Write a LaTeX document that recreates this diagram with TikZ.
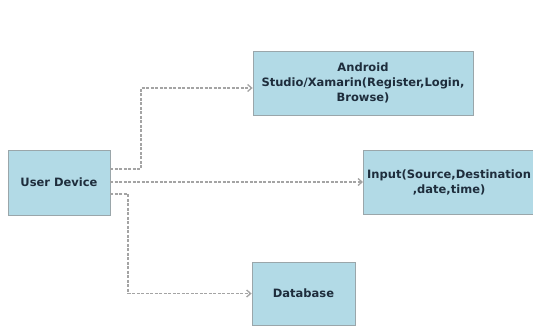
\documentclass[tikz,border=0pt]{standalone}
\usepackage{fontspec}
\setmainfont{DejaVu Sans}
\usetikzlibrary{positioning, arrows.meta}
\definecolor{BoxFill}{HTML}{B2DAE6}
\definecolor{BoxLine}{HTML}{9AA6AA}
\definecolor{TextNavy}{HTML}{1E2D3C}
\definecolor{LinkGray}{HTML}{A4A4A4}
\tikzset{
  boxtext/.style={font=\fontsize{11.5}{15}\selectfont\bfseries, text=TextNavy, align=center},
  box/.style={boxtext, draw=BoxLine, fill=BoxFill, inner sep=2pt, line width=0.8pt},
  link/.style={draw=LinkGray, dash pattern=on 3pt off 1.5pt, line width=1.3pt, -{Straight Barb[length=4pt, width=7pt]}}
}

\begin{document}
\begin{tikzpicture}[x=1pt, y=-1pt]
  \useasboundingbox (0,0) rectangle (533,327);
  \fill[white] (0,0) rectangle (533,327);
  \begin{scope}
    \clip (0,0) rectangle (533,327);
    \node[box, minimum width=102pt, minimum height=65pt] (user) at (59,182.5) {User Device};
    \node[box, minimum width=220pt, minimum height=64pt] (android) at (363,83) {Android\\Studio/Xamarin(Register,Login,\\Browse)};
    \node[box, minimum width=190pt, minimum height=64pt, anchor=west] (input) at (363,182) {};
    \node[boxtext, anchor=west, inner sep=0pt] (inputtext) at (367,182) {Input(Source,Destination\\,date,time)};
    \node[box, minimum width=103pt, minimum height=63pt] (db) at (303.5,293.5) {Database};
    % connectors
    \coordinate (up) at (141,169);
    \coordinate (down) at (128,194);
    \draw[link] (user.east |- up) -| (141,88) -- (android.west |- 0,88);
    \draw[link] (user.east |- 0,182) -- (input.west);
    \draw[link] (user.east |- down) -| (128,293.5) -- (db.west);
  \end{scope}
\end{tikzpicture}
\end{document}
